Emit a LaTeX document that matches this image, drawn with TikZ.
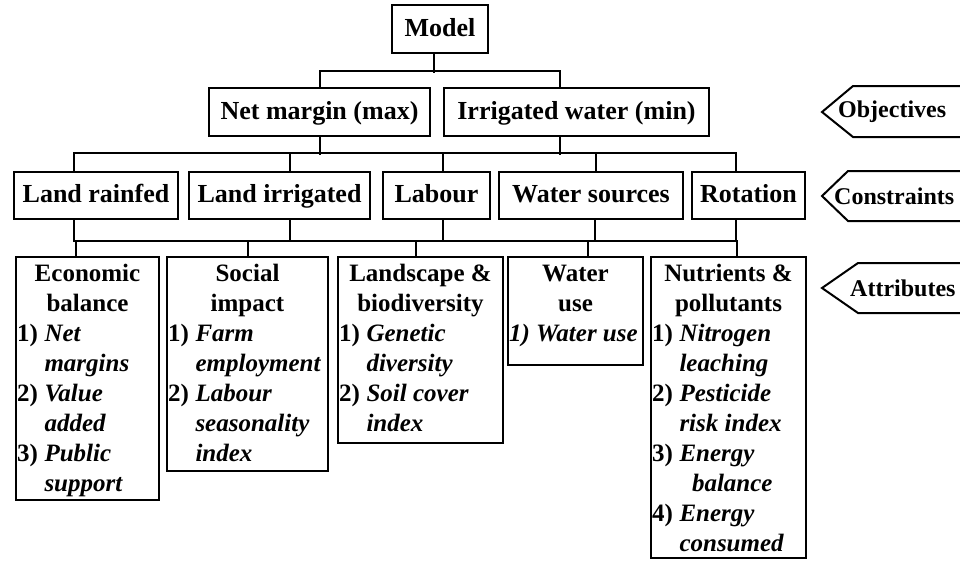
\documentclass[tikz,border=0pt]{standalone}
\usepackage{fontspec}
\setmainfont{Liberation Serif}

\newcommand{\bigfont}{\fontsize{26}{30}\selectfont\bfseries}
\newcommand{\attfont}{\fontsize{25}{30}\selectfont\bfseries}
\newcommand{\tagfont}{\fontsize{24}{28}\selectfont\bfseries}
% one attribute with a second line (hanging indent)
\newcommand{\attitem}[3]{\par\raggedright\hangindent=1.1em\hangafter=1\noindent\makebox[1.1em][l]{#1}\textit{#2}\newline\textit{#3}}
\newcommand{\attone}[2]{\par\raggedright\noindent\mbox{\textit{#1~#2}}}
% width, height, heading, items
\newcommand{\attbox}[4]{\parbox[c][#2pt][t]{#1pt}{\strut\centering #3\par #4}}

\begin{document}
\begin{tikzpicture}[x=1pt, y=-1pt,
  objbox/.style={draw, line width=2pt, inner sep=0pt, minimum height=48pt,
    text height=19pt, text depth=5pt, font=\bigfont},
  attrbox/.style={draw, line width=2pt, inner xsep=1pt, inner ysep=3pt, anchor=north west, font=\attfont},
  conn/.style={line width=2pt},
  tagline/.style={line width=2pt, line join=miter},
  tagtext/.style={anchor=west, inner sep=0pt, font=\tagfont}]
\useasboundingbox (0,0) rectangle (960,560);
\clip (0,0) rectangle (960,560);

% Nodes
\node[objbox, minimum width=96pt] (model) at (440,29) {Model};

\node[objbox, minimum width=221pt] (net) at (319.5,112) {Net margin (max)};
\node[objbox, minimum width=265pt] (irr) at (576.5,112) {Irrigated water (min)};

\node[objbox, minimum width=164pt, minimum height=47pt] (rainfed) at (96,195.5) {Land rainfed};
\node[objbox, minimum width=181pt, minimum height=47pt] (landirr) at (279.5,195.5) {Land irrigated};
\node[objbox, minimum width=107pt, minimum height=47pt] (labour) at (436.5,195.5) {Labour};
\node[objbox, minimum width=184pt, minimum height=47pt] (watersrc) at (591,195.5) {Water sources};
\node[objbox, minimum width=113pt, minimum height=47pt] (rotation) at (748.5,195.5) {Rotation};

\node[attrbox] (econ) at (15,256) {\attbox{141}{237}{Economic\\balance}{%
  \attitem{1)}{Net}{margins}\attitem{2)}{Value}{added}\attitem{3)}{Public}{support}}};
\node[attrbox] (social) at (166,256) {\attbox{159}{208}{Social\\impact}{%
  \attitem{1)}{Farm}{employment}\attitem{2)}{Labour}{seasonality\newline index}}};
\node[attrbox] (landscape) at (337,256) {\attbox{163}{180}{Landscape \&\\biodiversity}{%
  \attitem{1)}{Genetic}{diversity}\attitem{2)}{Soil cover}{index}}};
\node[attrbox] (wateruse) at (507,256) {\attbox{133}{102}{Water\\use}{%
  \attone{1)}{Water use}}};
\node[attrbox] (nutrients) at (650,256) {\attbox{153}{295}{Nutrients \&\\pollutants}{%
  \attitem{1)}{Nitrogen}{leaching}\attitem{2)}{Pesticide}{risk index}%
  \attitem{3)}{Energy}{\hspace*{0.5em}balance}\attitem{4)}{Energy}{consumed}}};

% Edges
\draw[conn] ([xshift=-6pt]model.south) -- ++(0,19);
\draw[conn] (net.north) -- ++(0,-16) -| ([xshift=-17pt]irr.north);

\draw[conn] (net.south) -- ++(0,18);
\draw[conn] ([xshift=-17pt]irr.south) -- ++(0,18);
\draw[conn] ([xshift=-22pt]rainfed.north) -- ++(0,-18) -| ([xshift=-13pt]rotation.north);
\draw[conn] ([xshift=10pt]landirr.north) -- ++(0,-18);
\draw[conn] ([xshift=6pt]labour.north) -- ++(0,-18);
\draw[conn] ([xshift=5pt]watersrc.north) -- ++(0,-18);

\draw[conn] ([xshift=-22pt]rainfed.south) -- ++(0,21) -| ([xshift=-13pt]rotation.south);
\draw[conn] ([xshift=10pt]landirr.south) -- ++(0,21);
\draw[conn] ([xshift=6pt]labour.south) -- ++(0,21);
\draw[conn] ([xshift=4pt]watersrc.south) -- ++(0,21);
\draw[conn] ([xshift=-12pt]econ.north) -- ++(0,-16);
\draw[conn] (social.north) -- ++(0,-16);
\draw[conn] ([xshift=-5pt]landscape.north) -- ++(0,-16);
\draw[conn] ([xshift=12pt]wateruse.north) -- ++(0,-16);
\draw[conn] ([xshift=8pt]nutrients.north) -- ++(0,-16);

% Level tags
\draw[tagline] (822,112) -- (853,86) -- (990,86) -- (990,137) -- (853,137) -- cycle;
\node[tagtext] (objtag) at (838,112) {Objectives};
\draw[tagline] (822,196) -- (848,171) -- (990,171) -- (990,221) -- (848,221) -- cycle;
\node[tagtext] (contag) at (834,196) {Constraints};
\draw[tagline] (822,288) -- (858,263) -- (990,263) -- (990,313) -- (858,313) -- cycle;
\node[tagtext] (atttag) at (850,288) {Attributes};
\end{tikzpicture}
\end{document}
